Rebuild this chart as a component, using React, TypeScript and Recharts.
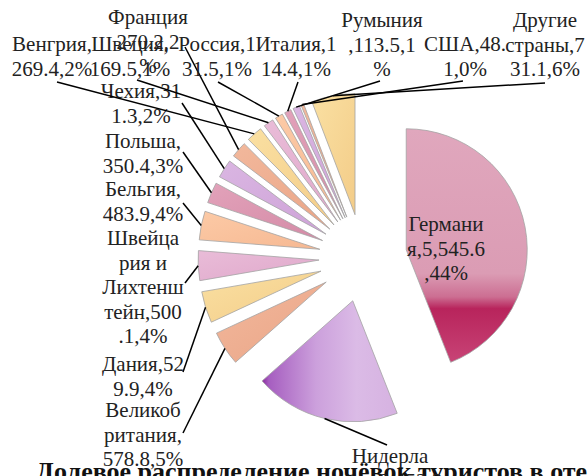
import React from 'react';
import { PieChart, Pie, Cell, Sector, Tooltip } from 'recharts';

// nights spent by foreign tourists (thousands), clockwise from 12 o'clock
const countries = [
  'Германия', 'Нидерланды', 'Великобритания', 'Дания', 'Швейцария и Лихтенштейн',
  'Бельгия', 'Польша', 'Чехия', 'Франция', 'Венгрия', 'Швеция', 'Россия',
  'Италия', 'Румыния', 'США', 'Другие страны',
];
const nights = [
  5545.6, 2452.3, 578.8, 529.9, 500.1, 483.9, 350.4, 311.3,
  270.2, 269.4, 169.5, 131.5, 114.4, 113.5, 48.1, 731.1,
];
// label text as Excel wrapped it
const labelLines = [
  ['Германи', 'я,5,545.6', ',44%'],
  ['Нидерла', 'нды,2,452.3', ',19%'],
  ['Великоб', 'ритания,', '578.8,5%'],
  ['Дания,52', '9.9,4%'],
  ['Швейца', 'рия и', 'Лихтенш', 'тейн,500', '.1,4%'],
  ['Бельгия,', '483.9,4%'],
  ['Польша,', '350.4,3%'],
  ['Чехия,31', '1.3,2%'],
  ['Франция', '270.2,2', '%'],
  ['Венгрия,', '269.4,2%'],
  ['Швеция,', '169.5,1%'],
  ['Россия,1', '31.5,1%'],
  ['Италия,1', '14.4,1%'],
  ['Румыния', ',113.5,1', '%'],
  ['США,48.', '1,0%'],
  ['Другие', 'страны,7', '31.1,6%'],
];

const data = countries.map((name, i) => ({ name, value: nights[i] }));

// layout of the hand-placed data labels (x = centre, y = first baseline, lx/ly = leader start)
const labelPos: { x: number; y: number; lx?: number; ly?: number }[] = [
  { x: 446, y: 231 },
  { x: 390, y: 463, lx: 387, ly: 445 },
  { x: 143, y: 417, lx: 183, ly: 433 },
  { x: 143, y: 371, lx: 183, ly: 372 },
  { x: 143, y: 245, lx: 185, ly: 283 },
  { x: 143, y: 196, lx: 183, ly: 203 },
  { x: 143, y: 148, lx: 183, ly: 152 },
  { x: 141, y: 98, lx: 182, ly: 103 },
  { x: 148, y: 24, lx: 185, ly: 47 },
  { x: 52, y: 51, lx: 57, ly: 82 },
  { x: 130, y: 51, lx: 137, ly: 80 },
  { x: 217, y: 51, lx: 218, ly: 82 },
  { x: 296, y: 51, lx: 298, ly: 82 },
  { x: 382, y: 27, lx: 380, ly: 81 },
  { x: 465, y: 51, lx: 463, ly: 81 },
  { x: 545, y: 27, lx: 545, ly: 83 },
];

const gradIds = ['gGer', 'gNed'];
const cycle = ['gRose', 'gLilac', 'gSalmon', 'gYellow', 'gPink', 'gPeach'];

const EXPLODE = 44;
const RAD = Math.PI / 180;
const FONT = 'Liberation Serif';

const explodedSector = (props: any) => {
  const { cx, cy, midAngle, innerRadius, outerRadius, startAngle, endAngle, fill } = props;
  const dx = EXPLODE * Math.cos(-midAngle * RAD);
  const dy = EXPLODE * Math.sin(-midAngle * RAD);
  return (
    <Sector
      cx={cx + dx}
      cy={cy + dy}
      innerRadius={innerRadius}
      outerRadius={outerRadius}
      startAngle={startAngle}
      endAngle={endAngle}
      fill={fill}
      stroke="#a3a3a3"
      strokeWidth={0.8}
    />
  );
};

const renderLabel = (props: any) => {
  const { cx, cy, midAngle, outerRadius, index } = props;
  const pos = labelPos[index];
  const r = EXPLODE + outerRadius;
  const ex = cx + r * Math.cos(-midAngle * RAD);
  const ey = cy + r * Math.sin(-midAngle * RAD);
  return (
    <g key={`lbl-${index}`}>
      {pos.lx !== undefined && (
        <line x1={pos.lx} y1={pos.ly} x2={ex} y2={ey} stroke="#000" strokeWidth={1.5} />
      )}
      <text
        x={pos.x}
        y={pos.y}
        textAnchor="middle"
        fill="#222"
        style={{ fontFamily: FONT, fontSize: 21 }}
      >
        {labelLines[index].map((t, j) => (
          <tspan key={j} x={pos.x} y={pos.y + j * 24.5}>
            {t}
          </tspan>
        ))}
      </text>
    </g>
  );
};

export default function App() {
  return (
    <div style={{ width: 588, height: 476, background: '#fff', overflow: 'hidden' }}>
      <style>{'body{margin:0}'}</style>
      <PieChart width={588} height={476} margin={{ top: 0, right: 0, bottom: 0, left: 0 }}>
        <defs>
          <linearGradient id="gGer" x1="0" y1="0" x2="0" y2="1">
            <stop offset="0" stopColor="#e0a7bd" />
            <stop offset="0.62" stopColor="#db9cb4" />
            <stop offset="0.72" stopColor="#cc6e92" />
            <stop offset="0.77" stopColor="#b8245c" />
            <stop offset="1" stopColor="#c84476" />
          </linearGradient>
          <linearGradient id="gNed" x1="0" y1="0" x2="1" y2="0">
            <stop offset="0" stopColor="#8a2a9e" />
            <stop offset="0.05" stopColor="#a65ec0" />
            <stop offset="0.4" stopColor="#cca0dc" />
            <stop offset="0.7" stopColor="#dbbbe6" />
            <stop offset="1" stopColor="#d6b2e1" />
          </linearGradient>
          <linearGradient id="gSalmon" x1="0" y1="0" x2="1" y2="1">
            <stop offset="0" stopColor="#f2b89c" />
            <stop offset="1" stopColor="#eaa587" />
          </linearGradient>
          <linearGradient id="gYellow" x1="0" y1="0" x2="1" y2="1">
            <stop offset="0" stopColor="#fae0a2" />
            <stop offset="1" stopColor="#f3cc88" />
          </linearGradient>
          <linearGradient id="gPink" x1="0" y1="0" x2="1" y2="1">
            <stop offset="0" stopColor="#e9bcd8" />
            <stop offset="1" stopColor="#e0a8cb" />
          </linearGradient>
          <linearGradient id="gPeach" x1="0" y1="0" x2="1" y2="1">
            <stop offset="0" stopColor="#fccaa6" />
            <stop offset="1" stopColor="#f6b892" />
          </linearGradient>
          <linearGradient id="gRose" x1="0" y1="0" x2="1" y2="1">
            <stop offset="0" stopColor="#e2a2ba" />
            <stop offset="1" stopColor="#d48aa6" />
          </linearGradient>
          <linearGradient id="gLilac" x1="0" y1="0" x2="1" y2="1">
            <stop offset="0" stopColor="#dab6e2" />
            <stop offset="1" stopColor="#cea2d8" />
          </linearGradient>
        </defs>
        <Pie
          data={data}
          dataKey="value"
          nameKey="name"
          cx={363}
          cy={258}
          outerRadius={121}
          startAngle={90}
          endAngle={-270}
          isAnimationActive={false}
          labelLine={false}
          label={renderLabel}
          shape={explodedSector}
          activeShape={explodedSector}
          inactiveShape={explodedSector}
        >
          {data.map((d, i) => (
            <Cell key={d.name} fill={`url(#${i < 2 ? gradIds[i] : cycle[i % 6]})`} />
          ))}
        </Pie>
        <Tooltip defaultIndex={0} content={() => null} />
        <text
          x={36}
          y={480}
          fill="#111"
          style={{ fontFamily: FONT, fontWeight: 'bold', fontSize: 26 }}
        >
          Долевое распределение ночёвок туристов в отелях
        </text>
      </PieChart>
    </div>
  );
}
